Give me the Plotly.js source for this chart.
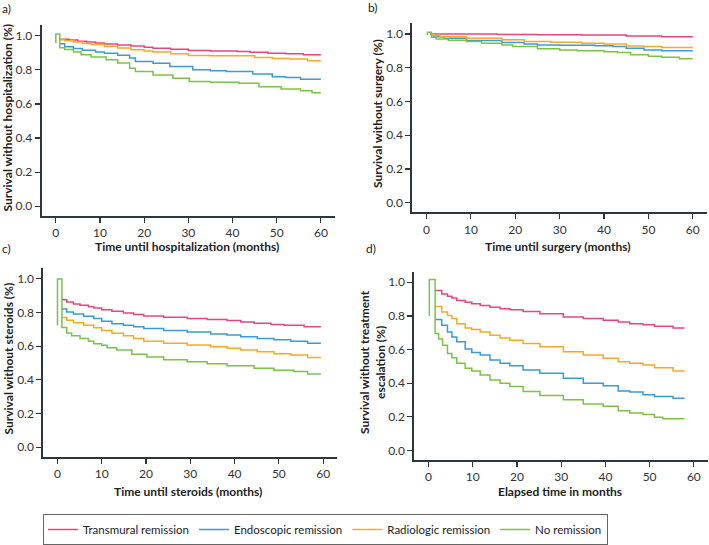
<!DOCTYPE html>
<html>
<head>
<meta charset="utf-8">
<script src="https://cdn.plot.ly/plotly-3.0.1.min.js"></script>
<style>html,body{margin:0;padding:0;background:#fff;}#chart{width:709px;height:545px;}</style>
</head>
<body>
<div id="chart"></div>
<script>
// ---------- DATA ----------
var seriesNames = ["Transmural remission", "Endoscopic remission", "Radiologic remission", "No remission"];
var xTicks = [0, 10, 20, 30, 40, 50, 60];
var yTicks = [0.0, 0.2, 0.4, 0.6, 0.8, 1.0];

// a) hospitalization
var a_pink_t = [0.9, 3, 5, 7, 9, 11, 14, 17, 20, 22, 26, 30, 35, 41, 44, 48, 52, 56, 60];
var a_pink_s = [0.98, 0.975, 0.968, 0.963, 0.958, 0.951, 0.945, 0.94, 0.933, 0.927, 0.921, 0.913, 0.91, 0.907, 0.903, 0.898, 0.894, 0.888, 0.888];
var a_blue_t = [0.9, 2, 4, 6, 9, 11, 14, 16.7, 18, 22, 25.8, 31, 35, 38.6, 44.6, 49, 52, 55.4, 60];
var a_blue_s = [0.953, 0.935, 0.925, 0.915, 0.905, 0.898, 0.885, 0.869, 0.849, 0.839, 0.819, 0.8, 0.795, 0.79, 0.776, 0.76, 0.755, 0.745, 0.745];
var a_orange_t = [0.9, 2, 4, 6, 8, 11, 14, 17, 20, 22, 26, 30, 35, 40, 45, 49, 53, 57, 60];
var a_orange_s = [0.976, 0.97, 0.963, 0.955, 0.948, 0.937, 0.928, 0.918, 0.91, 0.904, 0.894, 0.884, 0.883, 0.882, 0.872, 0.867, 0.863, 0.853, 0.853];
var a_green_t = [0, 0, 0.9, 0.9, 2, 4, 5.7, 8, 11.4, 14, 16.7, 18, 22, 26.5, 30.2, 35, 41.5, 46, 51, 55.4, 58, 60];
var a_green_s = [0.957, 1.01, 1.01, 0.93, 0.92, 0.905, 0.888, 0.875, 0.859, 0.84, 0.81, 0.79, 0.77, 0.751, 0.731, 0.727, 0.721, 0.701, 0.688, 0.678, 0.666, 0.666];

// b) surgery
var b_pink_t = [0.75, 8, 16, 25, 35, 45, 53, 60];
var b_pink_s = [1.0, 0.999, 0.997, 0.995, 0.993, 0.988, 0.983, 0.983];
var b_blue_t = [1, 1.5, 4, 9, 17, 22, 25, 30, 38, 42, 45, 49, 53, 60];
var b_blue_s = [1.0, 0.984, 0.975, 0.961, 0.949, 0.941, 0.935, 0.933, 0.93, 0.925, 0.915, 0.905, 0.901, 0.901];
var b_orange_t = [1, 1.5, 3, 9, 17, 22, 28, 35, 40, 45, 49, 53, 60];
var b_orange_s = [1.0, 0.99, 0.984, 0.975, 0.965, 0.955, 0.95, 0.945, 0.94, 0.929, 0.925, 0.92, 0.92];
var b_green_t = [0.2, 0.2, 1.1, 1.1, 2.2, 4.9, 9, 12.4, 17, 19.4, 25, 30, 34, 40, 43, 46, 50, 53, 57, 60];
var b_green_s = [0.994, 1.01, 1.01, 0.98, 0.97, 0.963, 0.955, 0.945, 0.935, 0.925, 0.912, 0.905, 0.9, 0.895, 0.89, 0.876, 0.868, 0.862, 0.853, 0.853];

// c) steroids
var c_pink_t = [1.0, 2.1, 3.6, 5.1, 7.0, 8.2, 10.0, 12.3, 14.9, 17.2, 19.5, 24.0, 29.3, 33.8, 38.3, 41.4, 44.4, 48.2, 51.2, 55.7, 59.5];
var c_pink_s = [0.876, 0.862, 0.851, 0.843, 0.835, 0.827, 0.817, 0.807, 0.797, 0.788, 0.78, 0.772, 0.764, 0.758, 0.752, 0.744, 0.737, 0.729, 0.725, 0.715, 0.715];
var c_blue_t = [1.0, 2.1, 3.6, 5.9, 8.2, 10.0, 12.3, 14.9, 17.2, 19.5, 24.0, 29.3, 34.6, 38.3, 41.4, 45.1, 48.9, 52.7, 56.5, 59.5];
var c_blue_s = [0.821, 0.803, 0.791, 0.778, 0.764, 0.748, 0.734, 0.725, 0.715, 0.705, 0.693, 0.685, 0.673, 0.666, 0.656, 0.646, 0.638, 0.63, 0.618, 0.618];
var c_orange_t = [1.0, 2.1, 3.6, 5.9, 8.2, 10.0, 12.3, 14.9, 17.2, 19.5, 24.0, 29.3, 34.6, 38.3, 41.4, 45.1, 48.9, 52.7, 56.5, 59.5];
var c_orange_s = [0.77, 0.754, 0.74, 0.725, 0.709, 0.693, 0.677, 0.662, 0.646, 0.63, 0.617, 0.607, 0.597, 0.587, 0.577, 0.567, 0.555, 0.548, 0.532, 0.532];
var c_green_t = [0, 0, 1.0, 1.0, 2.1, 3.2, 5.1, 7.0, 8.2, 10.0, 11.2, 13.4, 16.8, 20.2, 24.0, 29.3, 33.8, 38.3, 44.4, 48.9, 53.4, 56.5, 59.5];
var c_green_s = [0.725, 1.0, 1.0, 0.711, 0.679, 0.662, 0.646, 0.63, 0.614, 0.606, 0.591, 0.577, 0.552, 0.536, 0.52, 0.508, 0.496, 0.484, 0.469, 0.457, 0.449, 0.434, 0.434];

// d) treatment escalation
var d_pink_t = [1.5, 3.0, 4.3, 5.3, 6.4, 8.3, 9.8, 11.7, 13.9, 16.2, 18.4, 21.4, 25.2, 30.5, 35.0, 39.5, 42.9, 45.5, 48.5, 51.1, 55.3, 57.9];
var d_pink_s = [0.951, 0.931, 0.917, 0.906, 0.892, 0.882, 0.872, 0.862, 0.852, 0.843, 0.837, 0.827, 0.813, 0.793, 0.784, 0.774, 0.764, 0.754, 0.748, 0.738, 0.728, 0.728];
var d_blue_t = [1.5, 3.0, 4.3, 5.3, 6.4, 8.3, 9.8, 11.7, 13.9, 16.2, 18.4, 21.4, 25.2, 30.5, 35.0, 39.5, 42.9, 45.5, 48.5, 51.1, 55.3, 57.9];
var d_blue_s = [0.778, 0.744, 0.705, 0.675, 0.646, 0.603, 0.583, 0.567, 0.538, 0.518, 0.504, 0.478, 0.459, 0.429, 0.4, 0.384, 0.354, 0.347, 0.331, 0.321, 0.311, 0.311];
var d_orange_t = [1.5, 3.0, 4.3, 5.3, 6.4, 8.3, 9.8, 11.7, 13.9, 16.2, 18.4, 21.4, 25.2, 30.5, 35.0, 39.5, 42.9, 45.5, 48.5, 51.1, 55.3, 57.9];
var d_orange_s = [0.856, 0.823, 0.803, 0.784, 0.754, 0.728, 0.719, 0.705, 0.685, 0.669, 0.656, 0.636, 0.616, 0.587, 0.567, 0.548, 0.527, 0.518, 0.508, 0.492, 0.473, 0.473];
var d_green_t = [0.2, 0.2, 1.5, 1.5, 2.3, 3.2, 4.3, 5.3, 6.4, 8.3, 9.8, 11.7, 13.9, 16.2, 18.4, 21.4, 25.2, 30.5, 35.0, 39.5, 42.9, 45.5, 48.5, 51.1, 53.0, 57.9];
var d_green_s = [0.8, 1.016, 1.016, 0.695, 0.662, 0.626, 0.577, 0.551, 0.518, 0.488, 0.473, 0.449, 0.419, 0.4, 0.38, 0.35, 0.327, 0.301, 0.276, 0.262, 0.236, 0.223, 0.213, 0.197, 0.189, 0.189];

var colors = ["#e8467b", "#3b9ad8", "#f6a82b", "#7cc247"];

// ---------- BUILD ----------
var panels = [
  {xa: "x", ya: "y", d: [[a_pink_t, a_pink_s], [a_blue_t, a_blue_s], [a_orange_t, a_orange_s], [a_green_t, a_green_s]]},
  {xa: "x2", ya: "y2", d: [[b_pink_t, b_pink_s], [b_blue_t, b_blue_s], [b_orange_t, b_orange_s], [b_green_t, b_green_s]]},
  {xa: "x3", ya: "y3", d: [[c_pink_t, c_pink_s], [c_blue_t, c_blue_s], [c_orange_t, c_orange_s], [c_green_t, c_green_s]]},
  {xa: "x4", ya: "y4", d: [[d_pink_t, d_pink_s], [d_blue_t, d_blue_s], [d_orange_t, d_orange_s], [d_green_t, d_green_s]]}
];
var traces = [];
panels.forEach(function (p, pi) {
  p.d.forEach(function (ser, si) {
    traces.push({
      type: "scatter", mode: "lines", x: ser[0], y: ser[1],
      xaxis: p.xa, yaxis: p.ya,
      line: {shape: "hv", color: colors[si], width: 1.5},
      name: seriesNames[si], legendgroup: seriesNames[si],
      showlegend: pi === 0, hoverinfo: "skip"
    });
  });
});

var W = 709, H = 545;
function px(x) { return x / W; }
function py(y) { return 1 - y / H; }
var FONT = "Lato, 'Open Sans', sans-serif";
function xax(x0, x1, anchor) {
  return {domain: [px(x0), px(x1)], range: [-3.2, 63.2], anchor: anchor, tickvals: xTicks,
    ticks: "outside", ticklen: 5, tickwidth: 1.2, tickcolor: "#333", showline: true, linecolor: "#2e3740",
    linewidth: 2, showgrid: false, zeroline: false, tickfont: {family: FONT, size: 12, color: "#333"}, fixedrange: true};
}
function yax(y0, y1, anchor) {
  return {domain: [py(y1), py(y0)], range: [-0.057, 1.063], anchor: anchor, tickvals: yTicks, tickformat: ".1f",
    ticks: "outside", ticklen: 5, tickwidth: 1.2, tickcolor: "#333", showline: true, linecolor: "#2e3740",
    linewidth: 2, showgrid: false, zeroline: false, tickfont: {family: FONT, size: 12, color: "#333"}, fixedrange: true};
}
function ann(text, x, y, opts) {
  var o = {text: text, x: px(x), y: py(y), xref: "paper", yref: "paper", showarrow: false,
    xanchor: "center", yanchor: "middle", font: {family: FONT, size: 12, color: "#222"}};
  for (var k in opts) o[k] = opts[k];
  return o;
}
var bold = {family: FONT, size: 12, color: "#222", weight: "bold"};
var layout = {
  width: W, height: H, margin: {l: 0, r: 0, t: 0, b: 0}, paper_bgcolor: "#fff", plot_bgcolor: "#fff",
  font: {family: FONT},
  xaxis: xax(41.7, 335, "y"), yaxis: yax(25, 216, "x"),
  xaxis2: xax(412.3, 707, "y2"), yaxis2: yax(23.3, 212.3, "x2"),
  xaxis3: xax(43.3, 337.3, "y3"), yaxis3: yax(268.3, 456.7, "x3"),
  xaxis4: xax(414.3, 708, "y4"), yaxis4: yax(271.7, 460, "x4"),
  showlegend: true,
  legend: {orientation: "h", x: px(43), y: py(514), xanchor: "left", yanchor: "top",
    bordercolor: "#666", borderwidth: 1, bgcolor: "#fff", font: {family: FONT, size: 11.5, color: "#222"}},
  annotations: [
    ann("a)", 0, 8, {xanchor: "left"}),
    ann("b)", 366, 7, {xanchor: "left"}),
    ann("c)", 0, 249, {xanchor: "left"}),
    ann("d)", 364, 248, {xanchor: "left"}),
    ann("Time until hospitalization (months)", 187, 246, {font: bold}),
    ann("Time until surgery (months)", 557.5, 246, {font: bold}),
    ann("Time until steroids (months)", 188, 491.5, {font: bold}),
    ann("Elapsed time in months", 560, 491, {font: bold}),
    ann("Survival without hospitalization (%)", 7, 117.5, {font: bold, textangle: -90}),
    ann("Survival without surgery (%)", 377.5, 113.5, {font: bold, textangle: -90}),
    ann("Survival without steroids (%)", 7.5, 359, {font: bold, textangle: -90}),
    ann("Survival without treatment<br>escalation (%)", 372, 362, {font: bold, textangle: -90})
  ]
};
Plotly.newPlot("chart", traces, layout, {displayModeBar: false, staticPlot: true});
</script>
</body>
</html>
